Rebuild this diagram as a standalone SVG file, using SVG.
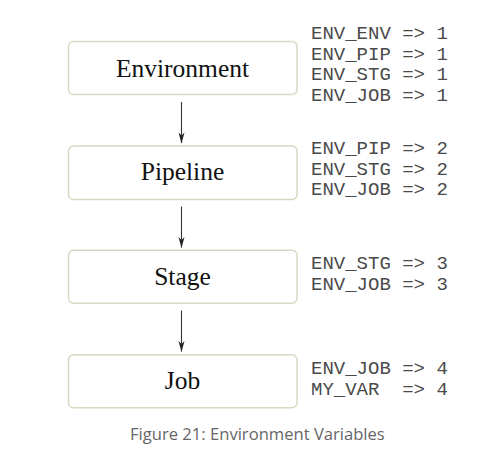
<svg xmlns="http://www.w3.org/2000/svg" width="494" height="459" viewBox="0 0 494 459">
<defs>
<style>
.box{fill:#ffffff;stroke:#d9d9c3;stroke-width:1.5}
.lbl{font-family:"Liberation Serif","Times New Roman",serif;font-size:25.5px;fill:#111;text-anchor:middle}
.var{font-family:"Liberation Mono","Courier New",monospace;font-size:19px;fill:#4a4a4a;white-space:pre}
.edge{stroke:#333;stroke-width:1.1;fill:none}
.head{fill:#222}
.cap{font-family:"Open Sans","Noto Sans",sans-serif;font-size:16.6px;fill:#666}
</style>
</defs>
<rect width="494" height="459" fill="#ffffff"/>
<g id="connectors">
<path class="edge" d="M181.5,102 V143"/>
<path class="head" d="M178.5,132.5 L181.5,143.5 L184.5,132.5 L181.5,135.5 Z"/>
<path class="edge" d="M181.5,206.5 V247.5"/>
<path class="head" d="M178.5,237 L181.5,248 L184.5,237 L181.5,240 Z"/>
<path class="edge" d="M181.5,310.5 V351.5"/>
<path class="head" d="M178.5,341 L181.5,352 L184.5,341 L181.5,344 Z"/>
</g>
<g id="node-environment">
<rect class="box" x="68.5" y="41.5" width="228.5" height="53" rx="5"/>
<text class="lbl" x="182.5" y="76.5">Environment</text>
</g>
<g id="node-pipeline">
<rect class="box" x="68.5" y="146" width="228.5" height="53.5" rx="5"/>
<text class="lbl" x="182.5" y="180">Pipeline</text>
</g>
<g id="node-stage">
<rect class="box" x="68.5" y="250.3" width="228.5" height="53" rx="5"/>
<text class="lbl" x="182.5" y="284.5">Stage</text>
</g>
<g id="node-job">
<rect class="box" x="68.5" y="354.8" width="228.5" height="53" rx="5"/>
<text class="lbl" x="182.5" y="389">Job</text>
</g>
<g id="vars">
<text class="var" x="311" y="39">ENV_ENV =&gt; 1</text>
<text class="var" x="311" y="59.5">ENV_PIP =&gt; 1</text>
<text class="var" x="311" y="80">ENV_STG =&gt; 1</text>
<text class="var" x="311" y="100.5">ENV_JOB =&gt; 1</text>
<text class="var" x="311" y="154">ENV_PIP =&gt; 2</text>
<text class="var" x="311" y="174.5">ENV_STG =&gt; 2</text>
<text class="var" x="311" y="195">ENV_JOB =&gt; 2</text>
<text class="var" x="311" y="269">ENV_STG =&gt; 3</text>
<text class="var" x="311" y="289.5">ENV_JOB =&gt; 3</text>
<text class="var" x="311" y="374">ENV_JOB =&gt; 4</text>
<text class="var" x="311" y="394.5" xml:space="preserve">MY_VAR  =&gt; 4</text>
</g>
<text class="cap" x="130" y="440">Figure 21: Environment Variables</text>
</svg>
